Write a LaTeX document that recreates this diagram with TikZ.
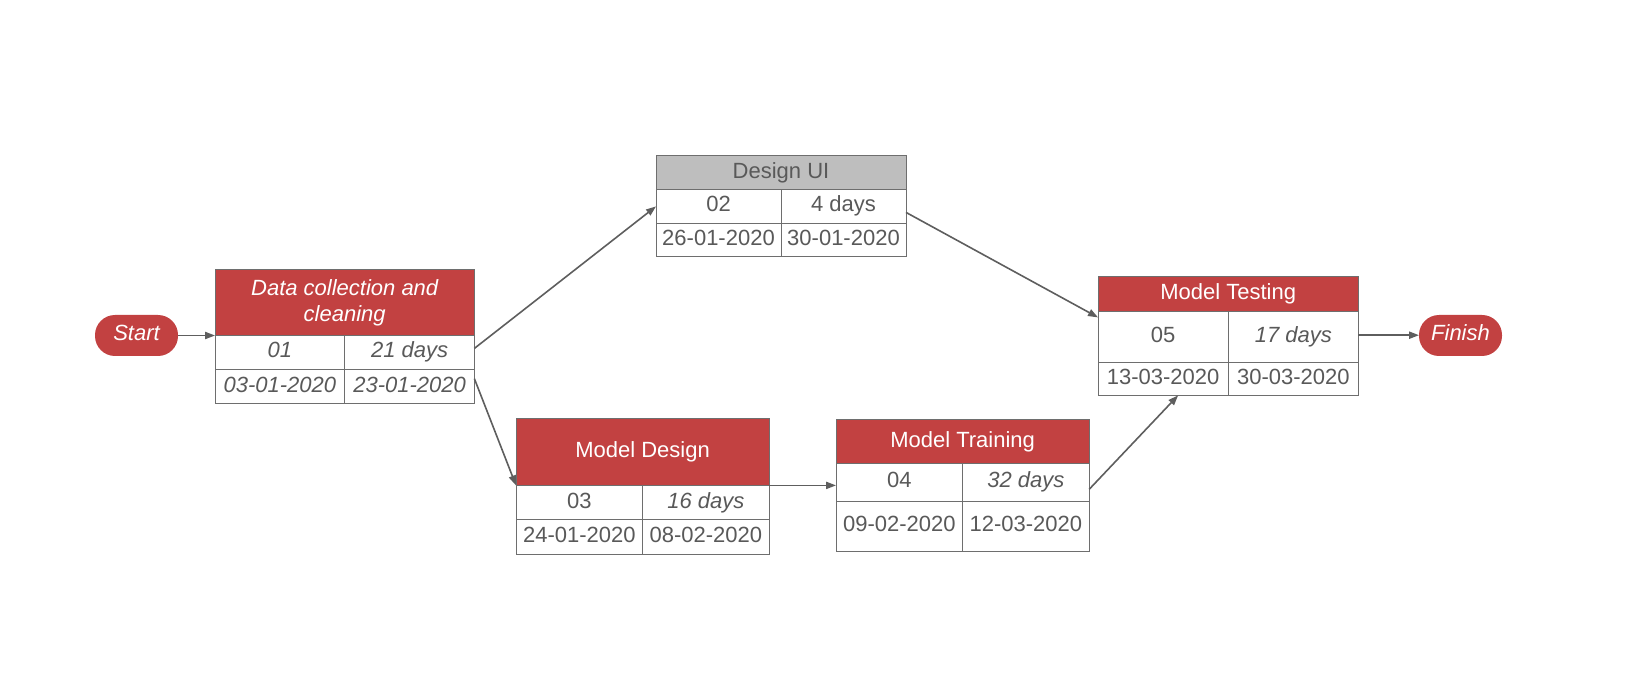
\documentclass[tikz,border=0pt]{standalone}
\usepackage{fontspec}
\setmainfont{Liberation Sans}
\usepackage{tikz}
\usetikzlibrary{arrows.meta,positioning,calc}
\definecolor{pertred}{HTML}{C24141}
\definecolor{uigray}{HTML}{BEBEBE}
\definecolor{txtgray}{HTML}{595959}
\definecolor{boxline}{HTML}{6E6E6E}
\definecolor{linegray}{HTML}{5E5E5E}

\begin{document}
\begin{tikzpicture}[x=0.5pt,y=-0.5pt,every node/.style={font=\fontsize{11}{13}\selectfont,align=center,outer sep=0pt,text height=8pt,text depth=2.5pt},hd/.style={draw=boxline,line width=0.5pt,fill=pertred,text=white,inner sep=0pt,anchor=north west},hdgray/.style={hd,fill=uigray,text=txtgray},cell/.style={draw=boxline,line width=0.5pt,fill=white,text=txtgray,inner sep=0pt,anchor=north west},term/.style={fill=pertred,text=white,rounded corners=10pt,minimum width=41.5pt,minimum height=20.5pt,inner sep=0pt,font=\fontsize{11}{13}\selectfont\itshape},link/.style={-{Triangle[length=5pt,width=3.6pt]},draw=linegray,line width=0.8pt}]
\useasboundingbox (0,0) rectangle (1627,673);
\node[term] (st) at (136.5,335.5) {Start};
\node[term] (fin) at (1460.5,335.5) {Finish};
% data collection
\node[hd,minimum width=129.7pt,minimum height=32.6pt,text height=21pt,font=\fontsize{11}{13}\selectfont\itshape] (t1h) at (215,270) {Data collection and\\cleaning};
\node[cell,minimum width=64.85pt,minimum height=17.2pt,font=\fontsize{11}{13}\selectfont\itshape] (t1a) at (t1h.south west) {01};
\node[cell,minimum width=64.85pt,minimum height=17.2pt,font=\fontsize{11}{13}\selectfont\itshape] (t1b) at (t1a.north east) {21 days};
\node[cell,minimum width=64.85pt,minimum height=17.1pt,font=\fontsize{11}{13}\selectfont\itshape] (t1c) at (t1a.south west) {03-01-2020};
\node[cell,minimum width=64.85pt,minimum height=17.1pt,font=\fontsize{11}{13}\selectfont\itshape] (t1d) at (t1c.north east) {23-01-2020};
% design ui
\node[hdgray,minimum width=125pt,minimum height=16.6pt] (t2h) at (656,156) {Design UI};
\node[cell,minimum width=62.5pt,minimum height=17.2pt] (t2a) at (t2h.south west) {02};
\node[cell,minimum width=62.5pt,minimum height=17.2pt] (t2b) at (t2a.north east) {4 days};
\node[cell,minimum width=62.5pt,minimum height=16.6pt] (t2c) at (t2a.south west) {26-01-2020};
\node[cell,minimum width=62.5pt,minimum height=16.6pt] (t2d) at (t2c.north east) {30-01-2020};
% model design
\node[hd,minimum width=126.6pt,minimum height=33.2pt] (t3h) at (516,419) {Model Design};
\node[cell,minimum width=63.3pt,minimum height=17.1pt] (t3a) at (t3h.south west) {03};
\node[cell,minimum width=63.3pt,minimum height=17.1pt,font=\fontsize{11}{13}\selectfont\itshape] (t3b) at (t3a.north east) {16 days};
\node[cell,minimum width=63.3pt,minimum height=17.2pt] (t3c) at (t3a.south west) {24-01-2020};
\node[cell,minimum width=63.3pt,minimum height=17.2pt] (t3d) at (t3c.north east) {08-02-2020};
% model training
\node[hd,minimum width=126.6pt,minimum height=21.8pt] (t4h) at (836,420) {Model Training};
\node[cell,minimum width=63.3pt,minimum height=18.7pt] (t4a) at (t4h.south west) {04};
\node[cell,minimum width=63.3pt,minimum height=18.7pt,font=\fontsize{11}{13}\selectfont\itshape] (t4b) at (t4a.north east) {32 days};
\node[cell,minimum width=63.3pt,minimum height=25.4pt] (t4c) at (t4a.south west) {09-02-2020};
\node[cell,minimum width=63.3pt,minimum height=25.4pt] (t4d) at (t4c.north east) {12-03-2020};
% model testing
\node[hd,minimum width=130.2pt,minimum height=17.2pt] (t5h) at (1098,277) {Model Testing};
\node[cell,minimum width=65.1pt,minimum height=25.4pt] (t5a) at (t5h.south west) {05};
\node[cell,minimum width=65.1pt,minimum height=25.4pt,font=\fontsize{11}{13}\selectfont\itshape] (t5b) at (t5a.north east) {17 days};
\node[cell,minimum width=65.1pt,minimum height=16.6pt] (t5c) at (t5a.south west) {13-03-2020};
\node[cell,minimum width=65.1pt,minimum height=16.6pt] (t5d) at (t5c.north east) {30-03-2020};
% links
\draw[link] (st.east) -- (st.east -| t1h.west);
\draw[link] ([yshift=2pt]t1b.east) -- (t2a.west);
\draw[link] ([yshift=4pt]t1d.east) -- (t3h.south west);
\draw[link] ([yshift=-3pt]t2b.east) -- ([yshift=-3pt]t5a.north west);
\draw[link] (t3h.south east) -- (t3h.south east -| t4a.west);
\draw[link] ([yshift=-3.5pt]t4b.east) -- ([xshift=7.5pt]t5c.south);
\draw[link] ([yshift=0.8pt]t5b.east) -- ([yshift=0.8pt]t5b.east -| fin.west);
\end{tikzpicture}
\end{document}
